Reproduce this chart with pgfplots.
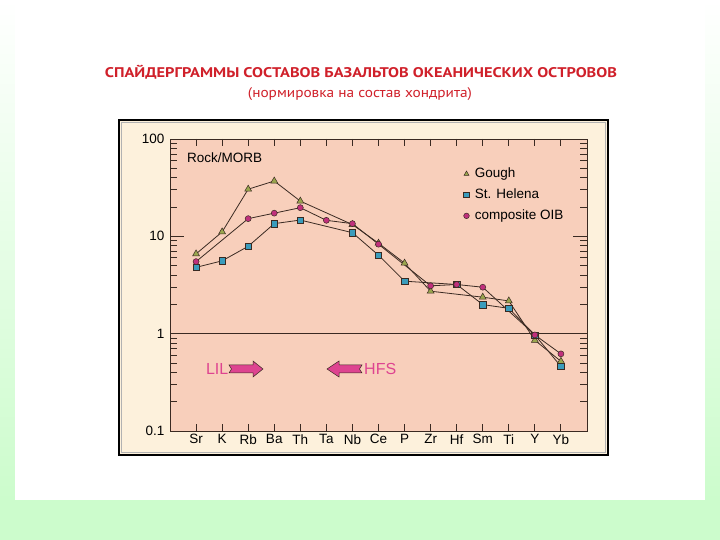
\documentclass[border=0pt]{standalone}
\usepackage{pgfplots}
\pgfplotsset{compat=1.18}
\usepackage{graphicx}
\usepackage{fontspec}
\setmainfont{Liberation Sans}
\newfontfamily\titlefont{PT Sans}

\definecolor{bggreen}{HTML}{CCFCCC}
\definecolor{framecream}{HTML}{FDF1DC}
\definecolor{plotpink}{HTML}{F8CFBB}
\definecolor{axisdark}{HTML}{3A2A22}
\definecolor{gough}{HTML}{9AA64E}
\definecolor{helena}{HTML}{3A9CBC}
\definecolor{oib}{HTML}{C0307C}
\definecolor{lilpink}{HTML}{DE4490}
\definecolor{titlered}{HTML}{D0202A}

\begin{document}
\begin{tikzpicture}[x=1pt,y=1pt]
\useasboundingbox (0,0) rectangle (720,540);
% slide background
\fill[bggreen] (0,0) rectangle (720,40);
\shade[top color=white, bottom color=bggreen] (0,40) rectangle (720,540);
\fill[white] (15,40) rectangle (705,540);

% titles
\node[text=titlered, font=\titlefont\bfseries\fontsize{14}{16}\selectfont, inner sep=0pt]
  at (361,468) {\resizebox{512pt}{\height}{СПАЙДЕРГРАММЫ СОСТАВОВ БАЗАЛЬТОВ ОКЕАНИЧЕСКИХ ОСТРОВОВ}};
\node[text=titlered, font=\titlefont\fontsize{14}{16}\selectfont, inner sep=0pt]
  at (360,446) {\resizebox{224pt}{\height}{(нормировка на состав хондрита)}};

% figure frame
\filldraw[fill=framecream, draw=black, line width=2pt] (119,85) rectangle (608,420);
\draw[gray!60, line width=0.8pt] (121.8,87.8) rectangle (605.2,417.2);

\begin{axis}[
  at={(170pt,109pt)}, anchor=south west,
  scale only axis, width=417pt, height=292pt,
  ymode=log, ymin=0.1, ymax=100, xmin=-1, xmax=15,
  xtick={0,...,14},
  xticklabels={Sr,K,Rb,Ba,Th,Ta,Nb,Ce,P,Zr,Hf,Sm,Ti,Y,Yb},
  ytick={0.1,1,10,100}, yticklabels={0.1,1,10,100},
  minor ytick={0.2,0.3,0.4,0.5,0.6,0.7,0.8,0.9,2,3,4,5,6,7,8,9,20,30,40,50,60,70,80,90},
  axis background/.style={fill=plotpink},
  axis line style={axisdark, line width=0.9pt},
  tick style={axisdark, line width=0.9pt},
  xtick style={/pgfplots/major tick length=7pt},
  ytick style={/pgfplots/major tick length=14pt},
  minor tick length=7pt,
  tick label style={font=\fontsize{13.5}{15}\selectfont, text=black},
  yticklabel style={xshift=-2pt},
  legend style={at={(0.700,0.907)}, anchor=north west, draw=none, fill=none,
    inner sep=0pt, font=\fontsize{13.5}{15}\selectfont, row sep=6pt,
    nodes={inner sep=1pt, text height=10pt, text depth=3pt}},
  legend cell align=left,
  legend image code/.code={\path (-4pt,0pt) (7pt,0pt);
    \draw[#1, only marks, mark size=2.8pt] plot coordinates {(0pt,0pt)};},
]
\addplot[axisdark, line width=0.9pt, forget plot] coordinates {(-1,1) (15,1)};

\addplot[axisdark, line width=0.8pt, mark=triangle*, mark size=4pt,
  mark options={fill=gough, draw=axisdark, line width=0.5pt}] coordinates {
  (0,6.6) (1,11.1) (2,30.5) (3,37) (4,23) (6,13.2) (7,8.5) (8,5.3)
  (9,2.73) (11,2.37) (12,2.17) (13,0.855) (14,0.52)};
\addlegendentry{Gough}

\addplot[axisdark, line width=0.8pt, mark=square*, mark size=3.2pt,
  mark options={fill=helena, draw=axisdark, line width=0.5pt}] coordinates {
  (0,4.8) (1,5.6) (2,7.9) (3,13.5) (4,14.7) (6,10.9) (7,6.4) (8,3.46)
  (10,3.2) (11,1.99) (12,1.82) (13,0.97) (14,0.46)};
\addlegendentry{St. Helena}

\addplot[axisdark, line width=0.8pt, mark=*, mark size=3pt,
  mark options={fill=oib, draw=axisdark, line width=0.5pt}] coordinates {
  (0,5.5) (2,15.2) (3,17.3) (4,19.7) (5,14.6) (6,13.5) (7,8.3)
  (9,3.1) (10,3.2) (11,3.0) (13,0.97) (14,0.62)};
\addlegendentry{composite OIB}
\end{axis}

% annotations
\node[anchor=west, font=\fontsize{13.5}{15}\selectfont, inner sep=0pt] at (187,382) {Rock/MORB};
\node[anchor=east, text=lilpink, font=\fontsize{16}{18}\selectfont, inner sep=0pt] at (228.5,171) {LIL};
\node[anchor=west, text=lilpink, font=\fontsize{16}{18}\selectfont, inner sep=0pt] at (364,171) {HFS};
\filldraw[fill=lilpink, draw=axisdark, line width=0.5pt]
  (229,175) -- (253,175) -- (253,179) -- (263,171) -- (253,163) -- (253,167)
  -- (229,167) -- (231.5,171) -- cycle;
\filldraw[fill=lilpink, draw=axisdark, line width=0.5pt]
  (362,175) -- (339,175) -- (339,179) -- (327,171) -- (339,163) -- (339,167)
  -- (362,167) -- (359.5,171) -- cycle;
\end{tikzpicture}
\end{document}
